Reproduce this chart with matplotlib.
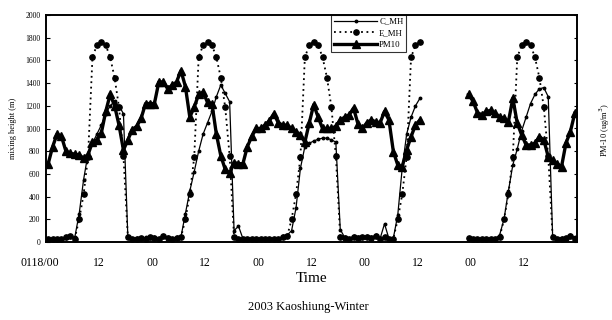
import numpy as np
import matplotlib
matplotlib.use("Agg")
import matplotlib.pyplot as plt
from matplotlib.transforms import ScaledTranslation

nan = np.nan

# hourly index 0..119 starting 0118/00
hours = np.arange(120)

c_mh = [30, 25, 30, 25, 35, 50, 40, 250, 550, 780,
        870, 950, 1030, 1130, 1200, 1240, 1200, 1130, 40, 30,
        35, 30, 40, 35, 45, 30, 55, 40, 30, 40,
        45, 250, 450, 620, 800, 950, 1050, 1150, 1280, 1383,
        1310, 1236, 100, 140, 30, 25, 25, 30, 30, 25,
        30, 30, 25, 50, 60, 100, 300, 650, 840, 870,
        890, 905, 915, 915, 900, 880, 110, 40, 30, 50,
        40, 45, 50, 40, 60, 30, 160, 30, 35, 240,
        650, 950, 1100, 1200, 1266, nan, nan, nan, nan, nan,
        nan, nan, nan, nan, nan, 30, 30, 25, 25, 25,
        30, 30, 60, 200, 450, 680, 820, 980, 1100, 1220,
        1300, 1350, 1360, 1280, 40, 30, 35, 30, 60, 40]

e_mh = [30, 25, 25, 30, 40, 50, 30, 200, 420, 750,
        1627, 1735, 1765, 1735, 1627, 1448, 1187, 758, 40, 30,
        30, 35, 30, 40, 35, 30, 50, 35, 30, 35,
        40, 200, 420, 750, 1627, 1735, 1765, 1735, 1627, 1448,
        1187, 758, 40, 30, 25, 25, 30, 25, 30, 30,
        25, 25, 30, 40, 50, 200, 420, 750, 1627, 1735,
        1765, 1735, 1627, 1448, 1187, 758, 40, 35, 30, 40,
        35, 40, 45, 35, 50, 30, 40, 30, 30, 200,
        420, 750, 1627, 1735, 1765, nan, nan, nan, nan, nan,
        nan, nan, nan, nan, nan, 35, 30, 30, 25, 25,
        30, 30, 40, 200, 420, 750, 1627, 1735, 1765, 1735,
        1627, 1448, 1187, 758, 40, 30, 30, 35, 50, 30]

pm10 = [69, 84, 95, 93, 80, 78, 77.5, 76.5, 74, 77,
        88, 90, 96, 115, 130, 120, 103, 81, 90, 99,
        102, 109, 122, 122, 122, 141, 141, 135, 138, 141,
        151, 137, 110, 119, 130, 132, 123, 122, 95, 76,
        64, 60.5, 70, 69, 69, 84, 93, 100, 100, 103,
        107, 113, 105, 103, 103, 100, 97, 94, 88, 105,
        121, 110, 100, 100, 100, 102, 107.5, 110, 112, 118,
        104, 100, 105, 107.5, 106, 105, 115, 107.5, 79.6, 67.8,
        66.3, 81.1, 92.8, 103.1, 107.5, nan, nan, nan, nan, nan,
        nan, nan, nan, nan, nan, 130, 124, 114, 112, 115,
        116, 113.4, 110.4, 109, 106, 126.6, 104.6, 94.3, 85.5, 85.5,
        87, 92.8, 89.9, 75.1, 72.2, 69, 66.3, 87, 97.2, 113.4]

tick_pos = [0, 12, 24, 36, 48, 60, 72, 84, 96, 108]
tick_lab = ["0118/00", "12", "00", "12", "00", "12", "00", "12", "00", "12"]

serif = ["Liberation Serif", "DejaVu Serif"]
plt.rcParams["font.family"] = serif

fig = plt.figure(figsize=(6.12, 3.2), dpi=100)
ax = fig.add_axes([46/612, 1-242/320, (577-46)/612, (242-15)/320])
ax2 = ax.twinx()

x = hours + 0.5
l1, = ax.plot(x, c_mh, color="black", lw=0.9, marker="o", ms=1.8, label="C_MH")
l2, = ax.plot(x, e_mh, color="black", lw=1.3, ls=(0, (1, 2)), marker="o", ms=3.8, label="E_MH")
l3, = ax2.plot(x, pm10, color="black", lw=2.4, marker="^", ms=6, label="PM10")

ax.set_xlim(0, 120)
ax.set_ylim(0, 2000)
ax2.set_ylim(0, 200)
ax.set_yticks(np.arange(0, 2001, 200))
ax.tick_params(axis="y", direction="in", length=3, labelsize=5.5, pad=4)
ax.set_xticks(tick_pos)
ax.set_xticklabels(tick_lab, fontsize=8.5)
ax.tick_params(axis="x", length=0, pad=11)
ax2.set_yticks(np.arange(0, 201, 20))
ax2.tick_params(axis="y", direction="in", length=2.5, labelright=False)

# first label sits slightly left of the axis origin in the reference
first = ax.get_xticklabels()[0]
first.set_transform(first.get_transform() + ScaledTranslation(-6/100, 0, fig.dpi_scale_trans))

for a in (ax, ax2):
    for s in a.spines.values():
        s.set_linewidth(1.2)

ax.set_ylabel("mixing height (m)", fontsize=6, labelpad=6)
fig.text(605/612, 1-130/320, "PM-10 (ug/m$^3$)", rotation=90, ha="center", va="center", fontsize=6)

fig.text(312/612, 1-279/320, "Time", ha="center", va="center", fontsize=11)
fig.text(308/612, 1-307/320, "2003 Kaoshiung-Winter", ha="center", va="center", fontsize=9)

leg = ax.legend(handles=[l1, l2, l3], loc="upper left",
                bbox_to_anchor=((331-46)/531, 1.0), fontsize=6.3,
                frameon=True, fancybox=False, edgecolor="black",
                handlelength=5, handletextpad=0.2, borderpad=0.3,
                labelspacing=0.4, borderaxespad=0)
leg.get_frame().set_linewidth(0.8)

fig.savefig("out.png", dpi=100)
